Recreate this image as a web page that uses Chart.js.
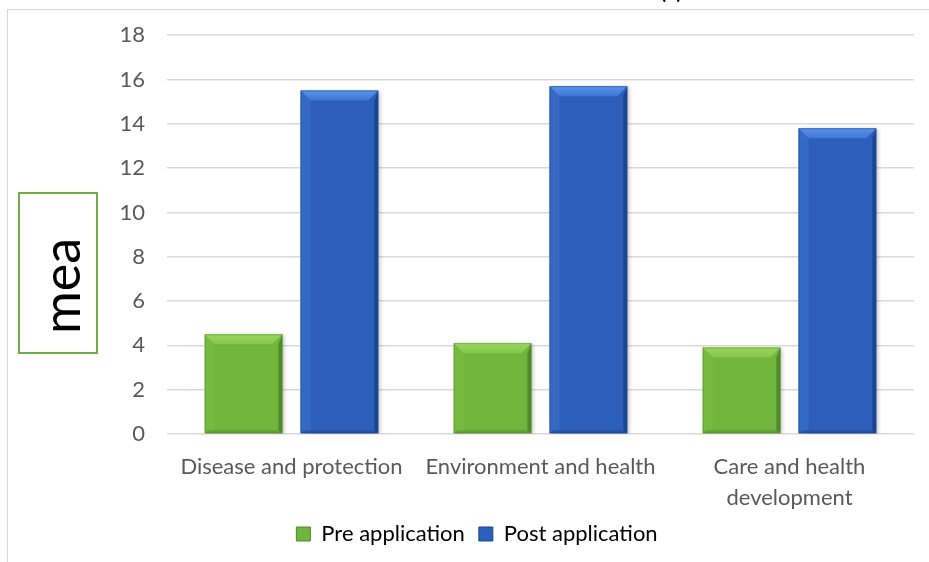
<!DOCTYPE html>
<html>
<head>
<meta charset="utf-8">
<script src="https://cdn.jsdelivr.net/npm/chart.js@4/dist/chart.umd.min.js"></script>
<style>
  html, body { margin: 0; padding: 0; background: #fff; overflow: hidden; }
  #wrap { position: relative; width: 929px; height: 562px; }
  #frame { position: absolute; left: 7px; top: 9px; right: -10px; bottom: -10px;
           border-left: 1px solid #d6d6d6; border-top: 1px solid #d6d6d6; }
  #chartBox { position: absolute; left: 0; top: 0; width: 929px; height: 562px; }
  #title { position: absolute; left: 659px; top: -27px; font: 28px Lato, sans-serif;
           line-height: 1; color: #000; white-space: nowrap; }
  #axisBox { position: absolute; left: 18px; top: 192px; width: 76px; height: 158px;
             border: 2px solid #70ad47; background: #fff; }
  #axisText { position: absolute; left: 60px; top: 286px; font: 52px Lato, sans-serif;
              line-height: 1; color: #000; white-space: nowrap;
              transform: translate(-50%, -50%) rotate(-90deg); }
</style>
</head>
<body>
<div id="wrap">
  <div id="frame"></div>
  <div id="chartBox"><canvas id="c"></canvas></div>
  <div id="title">(t)</div>
  <div id="axisBox"></div>
  <div id="axisText">mea</div>
</div>
<script>
// Category labels (wrapped lines) and the two series
const categoryLines = [
  ['Disease and protection'],
  ['Environment and health'],
  ['Care and health', 'development']
];
const seriesNames = ['Pre application', 'Post application'];
const preApplication = [4.5, 4.1, 3.9];
const postApplication = [15.5, 15.7, 13.8];
const yTicks = [0, 2, 4, 6, 8, 10, 12, 14, 16, 18];

const GREEN = { main: '#70b63c', light: '#9ad65e', mid: '#84c64a', dark: '#4f8a2b', side: '#76bb40' };
const BLUE  = { main: '#2c5ebc', light: '#5a94e8', mid: '#3f76d4', dark: '#1e4592', side: '#3569c6' };
const palette = [GREEN, BLUE];

// Soft drop shadow under the bars
const barShadow = {
  id: 'barShadow',
  beforeDatasetDraw(chart) {
    const ctx = chart.ctx;
    ctx.save();
    ctx.shadowColor = 'rgba(0,0,0,0.25)';
    ctx.shadowBlur = 4;
    ctx.shadowOffsetX = 2;
    ctx.shadowOffsetY = 1;
  },
  afterDatasetDraw(chart) { chart.ctx.restore(); }
};

// Bevelled edges drawn on top of every bar element
const bevel = {
  id: 'bevel',
  afterDatasetsDraw(chart) {
    const ctx = chart.ctx;
    chart.data.datasets.forEach((ds, di) => {
      const meta = chart.getDatasetMeta(di);
      const col = palette[di];
      meta.data.forEach(bar => {
        const l = bar.x - bar.width / 2, r = bar.x + bar.width / 2;
        const t = Math.min(bar.y, bar.base), b = Math.max(bar.y, bar.base);
        const s = Math.min(10, (b - t) / 2);
        const poly = (pts, fill) => {
          ctx.beginPath();
          ctx.moveTo(pts[0][0], pts[0][1]);
          for (let i = 1; i < pts.length; i++) ctx.lineTo(pts[i][0], pts[i][1]);
          ctx.closePath();
          ctx.fillStyle = fill;
          ctx.fill();
        };
        ctx.save();
        // left and right faces
        poly([[l, t], [l + s, t + s], [l + s, b - 3], [l, b]], col.side);
        poly([[r, t], [r, b], [r - 4, b - 3], [r - 4, t + s]], col.dark);
        // top face
        const g = ctx.createLinearGradient(0, t, 0, t + s);
        g.addColorStop(0, col.light);
        g.addColorStop(1, col.mid);
        poly([[l, t], [r, t], [r - s, t + s], [l + s, t + s]], g);
        ctx.globalAlpha = 0.5;
        poly([[l, b], [l + 3, b - 3], [r - 3, b - 3], [r, b]], col.dark);
        ctx.globalAlpha = 0.45;
        ctx.strokeStyle = col.dark;
        ctx.lineWidth = 1;
        ctx.strokeRect(l + 0.5, t + 0.5, r - l - 1, b - t - 1);
        ctx.restore();
      });
    });
  }
};

// Moves the bottom legend a little to the right of the plot centre
const legendShift = {
  id: 'legendShift',
  beforeDraw(chart) {
    const lg = chart.legend;
    if (lg && !lg._shifted) {
      lg.left += 20; lg.right += 20;
      if (lg.legendHitBoxes) lg.legendHitBoxes.forEach(h => { h.left += 20; });
      lg._shifted = true;
    }
  },
  afterUpdate(chart) { if (chart.legend) chart.legend._shifted = false; }
};

const textColor = '#595959';
const fontFamily = 'Lato, "Open Sans", sans-serif';

new Chart(document.getElementById('c'), {
  type: 'bar',
  data: {
    labels: categoryLines,
    datasets: [
      { label: seriesNames[0], data: preApplication, backgroundColor: GREEN.main,
        borderWidth: 0, barPercentage: 0.81, categoryPercentage: 0.77 },
      { label: seriesNames[1], data: postApplication, backgroundColor: BLUE.main,
        borderWidth: 0, barPercentage: 0.81, categoryPercentage: 0.77 }
    ]
  },
  options: {
    responsive: true,
    maintainAspectRatio: false,
    animation: false,
    layout: { padding: { top: 34, right: 15, bottom: 7, left: 0 } },
    plugins: {
      tooltip: { enabled: false },
      legend: {
        position: 'bottom',
        labels: {
          color: textColor,
          font: { family: fontFamily, size: 22 },
          boxWidth: 14, boxHeight: 14, padding: 14,
          generateLabels(chart) {
            return chart.data.datasets.map((ds, i) => ({
              text: ds.label, fillStyle: palette[i].main, strokeStyle: palette[i].dark,
              lineWidth: 1, hidden: false, datasetIndex: i
            }));
          }
        }
      }
    },
    scales: {
      x: {
        grid: { display: false, drawTicks: false },
        border: { display: false },
        ticks: { color: textColor, font: { family: fontFamily, size: 22, lineHeight: 1.38 },
                 padding: 18, maxRotation: 0, autoSkip: false },
        afterFit(scale) { scale.height = 75; }
      },
      y: {
        min: 0, max: 18,
        afterBuildTicks(scale) { scale.ticks = yTicks.map(v => ({ value: v })); },
        grid: { color: '#d9d9d9', lineWidth: 1.5, drawTicks: false },
        border: { display: false },
        ticks: { color: textColor, font: { family: fontFamily, size: 22 }, padding: 22 },
        afterFit(scale) { scale.width = 167; }
      }
    }
  },
  plugins: [barShadow, bevel, legendShift]
});
</script>
</body>
</html>
